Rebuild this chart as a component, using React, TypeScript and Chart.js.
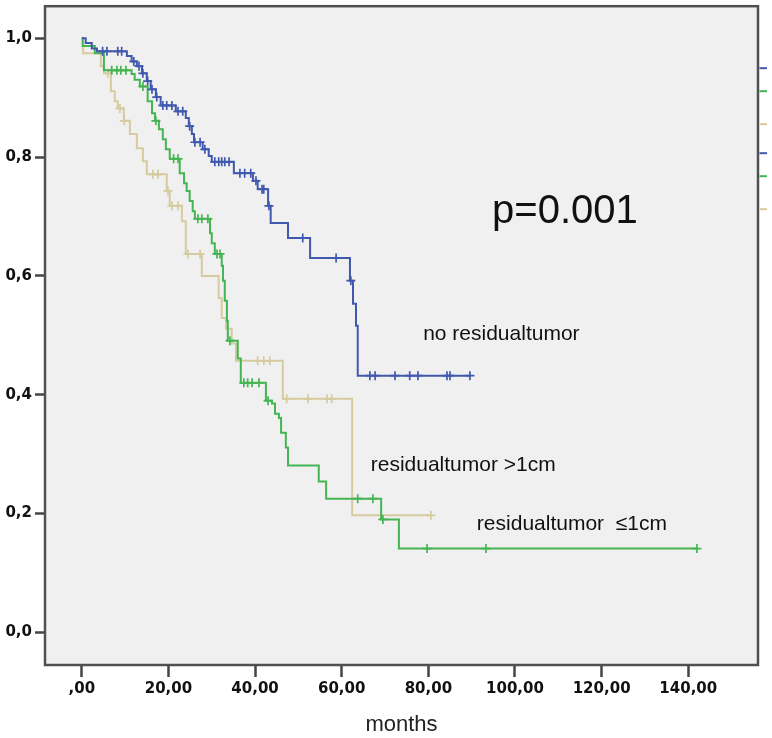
import React, { useEffect, useRef } from 'react';
import { Chart, registerables } from 'chart.js';

Chart.register(...registerables);

// ---- Data (months / cumulative survival) ----
const noResTimes = [0.9, 2.3, 3.5, 10.4, 11.5, 12.7, 13.9, 15.0, 15.9, 17.1, 18.2, 21.7, 24.0, 24.7, 25.4, 25.9, 27.9, 29.3, 30.0, 35.1, 39.5, 40.6, 43.0, 43.6, 47.6, 52.7, 61.9, 62.6, 63.3, 63.7];
const noResSurv = [0.992, 0.983, 0.978, 0.970, 0.961, 0.953, 0.941, 0.928, 0.914, 0.901, 0.887, 0.877, 0.866, 0.852, 0.839, 0.825, 0.813, 0.802, 0.792, 0.773, 0.760, 0.746, 0.718, 0.689, 0.664, 0.630, 0.592, 0.553, 0.516, 0.432];
const noResCensor = [4.8, 5.8, 8.3, 9.2, 12.0, 13.2, 14.1, 15.2, 16.2, 17.3, 18.7, 19.6, 20.8, 22.2, 23.3, 24.9, 26.1, 27.3, 28.4, 30.7, 31.6, 32.3, 33.0, 34.0, 36.5, 37.6, 39.0, 40.2, 41.6, 42.0, 43.2, 51.0, 58.7, 62.1, 66.5, 67.7, 72.3, 75.7, 77.6, 84.3, 85.0, 89.6];

const smallResTimes = [0.2, 3.0, 5.1, 11.5, 12.2, 13.4, 15.2, 16.2, 16.9, 17.8, 18.7, 19.4, 20.3, 22.6, 23.6, 24.2, 24.9, 25.6, 26.1, 29.6, 30.0, 30.7, 32.3, 32.6, 33.0, 33.5, 33.7, 36.0, 36.7, 42.5, 43.9, 44.6, 45.5, 46.0, 47.1, 47.6, 54.7, 56.4, 69.1, 73.2];
const smallResSurv = [0.987, 0.975, 0.946, 0.940, 0.930, 0.919, 0.894, 0.874, 0.861, 0.847, 0.830, 0.813, 0.797, 0.773, 0.756, 0.743, 0.726, 0.709, 0.696, 0.672, 0.655, 0.637, 0.617, 0.592, 0.558, 0.524, 0.491, 0.461, 0.420, 0.390, 0.385, 0.368, 0.361, 0.336, 0.311, 0.281, 0.254, 0.225, 0.190, 0.141];
const smallResCensor = [6.9, 8.1, 9.0, 10.2, 14.1, 17.1, 21.2, 22.2, 26.8, 27.7, 29.1, 31.2, 31.9, 34.2, 37.4, 38.3, 39.3, 40.9, 43.0, 63.7, 67.2, 69.5, 79.7, 93.3, 142.0];

const largeResTimes = [0.3, 4.4, 5.1, 6.7, 7.6, 8.3, 9.7, 11.1, 12.7, 14.1, 15.0, 19.6, 20.3, 23.1, 24.0, 27.7, 31.6, 32.3, 33.3, 34.6, 35.6, 46.4, 62.4];
const largeResSurv = [0.975, 0.953, 0.941, 0.911, 0.894, 0.882, 0.861, 0.839, 0.815, 0.793, 0.771, 0.743, 0.718, 0.692, 0.637, 0.600, 0.563, 0.529, 0.511, 0.486, 0.457, 0.393, 0.197];
const largeResCensor = [6.0, 8.8, 9.8, 16.4, 17.6, 19.9, 20.8, 22.2, 24.5, 27.3, 40.6, 42.0, 43.4, 47.3, 52.2, 56.6, 57.7, 80.6];

const xTicks = [0, 20, 40, 60, 80, 100, 120, 140];
const xTickLabels = [',00', '20,00', '40,00', '60,00', '80,00', '100,00', '120,00', '140,00'];
const yTicks = [0, 0.2, 0.4, 0.6, 0.8, 1.0];
const yTickLabels = ['0,0', '0,2', '0,4', '0,6', '0,8', '1,0'];

const xTitle = 'months';

const annotations = [
  { text: 'p=0.001', x: 94.7, y: 0.689, size: 40 },
  { text: 'no residualtumor', x: 78.8, y: 0.492, size: 21 },
  { text: 'residualtumor >1cm', x: 66.7, y: 0.272, size: 21 },
  { text: 'residualtumor  \u22641cm', x: 91.2, y: 0.173, size: 21 },
];

const BLUE = '#4058ae';
const GREEN = '#44b552';
const TAN = '#d5cb9e';

function curve(times: number[], surv: number[], censor: number[]) {
  const pts = [{ x: 0, y: 1 }];
  times.forEach((t, i) => pts.push({ x: t, y: surv[i] }));
  const end = Math.max(times[times.length - 1], ...censor);
  pts.push({ x: end, y: surv[surv.length - 1] });
  return pts;
}

function censorPts(times: number[], surv: number[], censor: number[]) {
  return censor.map((c) => {
    let s = 1;
    for (let i = 0; i < times.length; i++) if (times[i] <= c) s = surv[i];
    return { x: c, y: s };
  });
}

const framePlugin = {
  id: 'frame',
  beforeDraw(chart: any) {
    const { ctx, chartArea, width, height } = chart;
    ctx.save();
    ctx.fillStyle = '#ffffff';
    ctx.fillRect(0, 0, width, height);
    ctx.fillStyle = '#f0f0f0';
    ctx.fillRect(chartArea.left, chartArea.top, chartArea.right - chartArea.left, chartArea.bottom - chartArea.top);
    ctx.restore();
  },
  afterDraw(chart: any) {
    const { ctx, chartArea, scales } = chart;
    ctx.save();
    ctx.fillStyle = '#111';
    ctx.textAlign = 'left';
    ctx.textBaseline = 'alphabetic';
    annotations.forEach((a) => {
      ctx.font = `${a.size}px "Liberation Sans", Arial, sans-serif`;
      ctx.fillText(a.text, scales.x.getPixelForValue(a.x), scales.y.getPixelForValue(a.y));
    });
    ctx.strokeStyle = '#505050';
    ctx.lineWidth = 2.5;
    ctx.strokeRect(chartArea.left, chartArea.top, chartArea.right - chartArea.left, chartArea.bottom - chartArea.top);
    const legendCols = [BLUE, GREEN, TAN, BLUE, GREEN, TAN];
    const offs = [62, 85, 118, 147, 170, 203];
    ctx.lineWidth = 2;
    legendCols.forEach((c, i) => {
      ctx.strokeStyle = c;
      ctx.beginPath();
      ctx.moveTo(chartArea.right + 1.5, chartArea.top + offs[i]);
      ctx.lineTo(chartArea.right + 9, chartArea.top + offs[i]);
      ctx.stroke();
    });
    ctx.restore();
  },
};

export default function App() {
  const ref = useRef<HTMLCanvasElement>(null);
  useEffect(() => {
    if (!ref.current) return;
    const lineDs = (data: any, color: string) => ({
      type: 'line' as const,
      data,
      borderColor: color,
      borderWidth: 2,
      stepped: 'before' as const,
      pointRadius: 0,
      fill: false,
    });
    const censDs = (data: any, color: string) => ({
      type: 'line' as const,
      data,
      showLine: false,
      pointStyle: 'cross' as const,
      pointRadius: 4.5,
      pointBorderWidth: 1.7,
      pointBorderColor: color,
      pointBackgroundColor: color,
      borderColor: color,
    });
    const chart = new Chart(ref.current, {
      type: 'line',
      data: {
        datasets: [
          lineDs(curve(noResTimes, noResSurv, noResCensor), BLUE),
          censDs(censorPts(noResTimes, noResSurv, noResCensor), BLUE),
          lineDs(curve(smallResTimes, smallResSurv, smallResCensor), GREEN),
          censDs(censorPts(smallResTimes, smallResSurv, smallResCensor), GREEN),
          lineDs(curve(largeResTimes, largeResSurv, largeResCensor), TAN),
          censDs(censorPts(largeResTimes, largeResSurv, largeResCensor), TAN),
        ] as any,
      },
      options: {
        animation: false,
        responsive: false,
        devicePixelRatio: 1,
        layout: { padding: { top: 5, right: 14, bottom: 0, left: 0 } },
        plugins: { legend: { display: false }, tooltip: { enabled: false } },
        scales: {
          x: {
            type: 'linear',
            min: -8.5,
            max: 156.1,
            afterFit: (a: any) => { a.height = 73; a.paddingLeft = 0; a.paddingRight = 0; },
            afterBuildTicks: (s: any) => { s.ticks = xTicks.map((v) => ({ value: v })); },
            ticks: {
              callback: (_v: any, i: number) => xTickLabels[i],
              font: { family: '"DejaVu Sans", sans-serif', size: 15, weight: 'bold' },
              color: '#111',
              padding: 3,
              maxRotation: 0,
              autoSkip: false,
            },
            grid: { drawOnChartArea: false, drawTicks: true, tickLength: 12, tickWidth: 2.5, tickColor: '#444' },
            border: { display: false },
            title: {
              display: true,
              text: xTitle,
              font: { family: '"Liberation Sans Narrow", "Liberation Sans", sans-serif', size: 22 },
              color: '#222',
              padding: { top: 0, bottom: 0 },
            },
          },
          y: {
            type: 'linear',
            min: -0.055,
            max: 1.054,
            afterFit: (a: any) => { a.width = 45; a.paddingTop = 0; a.paddingBottom = 0; },
            afterBuildTicks: (s: any) => { s.ticks = yTicks.map((v) => ({ value: v })); },
            ticks: {
              callback: (_v: any, i: number) => yTickLabels[i],
              font: { family: '"DejaVu Sans", sans-serif', size: 15, weight: 'bold' },
              color: '#111',
              padding: 3,
              autoSkip: false,
            },
            grid: { drawOnChartArea: false, drawTicks: true, tickLength: 10, tickWidth: 2.5, tickColor: '#444' },
            border: { display: false },
          },
        },
      },
      plugins: [framePlugin],
    });
    return () => chart.destroy();
  }, []);
  return (
    <div style={{ position: 'fixed', left: 0, top: 0, width: 772, height: 738, background: '#fff' }}>
      <canvas ref={ref} width={772} height={738} style={{ width: 772, height: 738, display: 'block' }} />
    </div>
  );
}
